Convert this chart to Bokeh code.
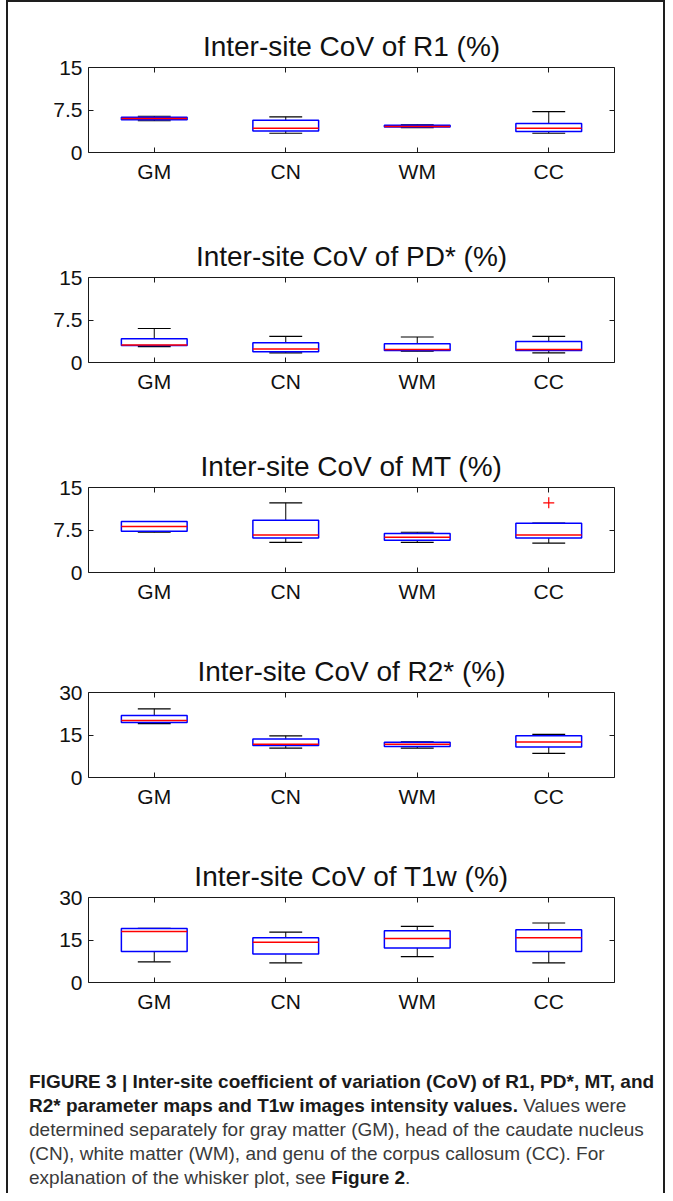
from bokeh.plotting import figure
from bokeh.models import Range1d, FixedTicker, LinearAxis, Div
from bokeh.layouts import column
from bokeh.embed import file_html
from bokeh.resources import INLINE

regions = ["GM", "CN", "WM", "CC"]

titles = ["Inter-site CoV of R1 (%)", "Inter-site CoV of PD* (%)",
          "Inter-site CoV of MT (%)", "Inter-site CoV of R2* (%)",
          "Inter-site CoV of T1w (%)"]

# five-number summaries per region: lower whisker, q1, median, q3, upper whisker
r1_lo = [5.6, 3.4, 4.4, 3.4]
r1_q1 = [5.8, 3.8, 4.5, 3.7]
r1_med = [6.0, 4.3, 4.6, 4.3]
r1_q3 = [6.2, 5.7, 4.8, 5.1]
r1_hi = [6.4, 6.3, 4.9, 7.2]

pd_lo = [2.8, 1.7, 2.0, 1.7]
pd_q1 = [3.0, 1.9, 2.1, 2.1]
pd_med = [3.1, 2.4, 2.3, 2.3]
pd_q3 = [4.2, 3.5, 3.3, 3.7]
pd_hi = [6.0, 4.6, 4.5, 4.6]

mt_lo = [7.1, 5.3, 5.3, 5.2]
mt_q1 = [7.3, 6.1, 5.7, 6.1]
mt_med = [8.1, 6.6, 6.2, 6.6]
mt_q3 = [9.0, 9.2, 6.9, 8.7]
mt_hi = [9.0, 12.3, 7.1, 8.7]
mt_out_region = ["CC"]
mt_out_value = [12.3]

r2_lo = [19.0, 10.4, 10.4, 8.5]
r2_q1 = [19.4, 11.3, 10.9, 10.8]
r2_med = [20.1, 11.7, 11.7, 12.5]
r2_q3 = [21.9, 13.6, 12.4, 14.7]
r2_hi = [24.2, 14.7, 12.6, 15.2]

t1_lo = [7.3, 6.9, 9.1, 6.9]
t1_q1 = [10.9, 10.1, 12.2, 10.9]
t1_med = [18.0, 14.2, 15.5, 15.8]
t1_q3 = [19.1, 15.8, 18.3, 18.6]
t1_hi = [19.1, 17.8, 19.8, 21.0]

ticks_15 = [0, 7.5, 15]
ticks_30 = [0, 15, 30]

# caption lines as (text, bold) runs
caption_lines = [
    [("FIGURE 3 | Inter-site coefficient of variation (CoV) of R1, PD*, MT, and", True)],
    [("R2* parameter maps and T1w images intensity values.", True), ("Values were", False)],
    [("determined separately for gray matter (GM), head of the caudate nucleus", False)],
    [("(CN), white matter (WM), and genu of the corpus callosum (CC). For", False)],
    [("explanation of the whisker plot, see", False), ("Figure 2", True), (".", False)],
]

FONT = "Liberation Sans"


def tick_label(v):
    return ("%g" % v)


def make_panel(title, lo, q1, med, q3, hi, yticks, height, top,
               out_region=None, out_value=None):
    frame_h = 85
    p = figure(width=645, height=height, output_backend="svg", toolbar_location=None,
               x_range=Range1d(0.5, len(regions) + 0.5),
               y_range=Range1d(yticks[0], yticks[-1]),
               min_border_left=80, min_border_right=39,
               min_border_top=top, min_border_bottom=height - top - frame_h)
    p.background_fill_color = "white"
    p.border_fill_color = "white"
    p.outline_line_color = "#1a1a1a"
    p.outline_line_width = 1
    p.xgrid.visible = False
    p.ygrid.visible = False

    xs = list(range(1, len(regions) + 1))
    hw = 0.25
    cw = 0.125

    # whiskers
    p.segment(x0=xs, y0=q3, x1=xs, y1=hi, line_color="black", line_width=1)
    p.segment(x0=xs, y0=q1, x1=xs, y1=lo, line_color="black", line_width=1)
    p.segment(x0=[x - cw for x in xs], y0=hi, x1=[x + cw for x in xs], y1=hi,
              line_color="black", line_width=1.2)
    p.segment(x0=[x - cw for x in xs], y0=lo, x1=[x + cw for x in xs], y1=lo,
              line_color="black", line_width=1.2)
    # boxes
    p.quad(left=[x - hw for x in xs], right=[x + hw for x in xs], bottom=q1, top=q3,
           fill_color=None, line_color="#0000ff", line_width=1.5)
    # medians
    p.segment(x0=[x - hw for x in xs], y0=med, x1=[x + hw for x in xs], y1=med,
              line_color="#ff0000", line_width=1.5)
    if out_region:
        ox = [regions.index(r) + 1 for r in out_region]
        p.scatter(x=ox, y=out_value, marker="cross", size=11, line_color="#ff0000",
                  line_width=1.2)

    labels = {x: r for x, r in zip(xs, regions)}
    p.xaxis.ticker = FixedTicker(ticks=xs)
    p.xaxis.major_label_overrides = labels
    p.yaxis.ticker = FixedTicker(ticks=yticks)
    p.yaxis.major_label_overrides = {v: tick_label(v) for v in yticks}
    for ax in (p.xaxis[0], p.yaxis[0]):
        ax.axis_line_color = None
        ax.major_tick_in = 5
        ax.major_tick_out = 0
        ax.major_tick_line_color = "#1a1a1a"
        ax.minor_tick_line_color = None
        ax.major_label_text_font = FONT
        ax.major_label_text_font_size = "21px"
        ax.major_label_text_color = "#111111"
    p.xaxis.major_label_standoff = 7
    p.yaxis.major_label_standoff = 6

    # mirrored inward ticks (MATLAB "box on"), without labels
    top_ax = LinearAxis(ticker=FixedTicker(ticks=xs), axis_line_color=None,
                        major_tick_in=5, major_tick_out=0, minor_tick_line_color=None,
                        major_label_text_color=None, major_label_text_font_size="1px",
                        major_label_standoff=0, major_tick_line_color="#1a1a1a")
    right_ax = LinearAxis(ticker=FixedTicker(ticks=yticks), axis_line_color=None,
                          major_tick_in=5, major_tick_out=0, minor_tick_line_color=None,
                          major_label_text_color=None, major_label_text_font_size="1px",
                          major_label_standoff=0, major_tick_line_color="#1a1a1a")
    p.add_layout(top_ax, "above")
    p.add_layout(right_ax, "right")

    p.title.text = title
    p.title.align = "center"
    p.title.text_font = FONT
    p.title.text_font_size = "28px"
    p.title.text_font_style = "normal"
    p.title.text_color = "#111111"
    p.title.standoff = 12
    return p


p1 = make_panel(titles[0], r1_lo, r1_q1, r1_med, r1_q3, r1_hi, ticks_15, 215, 65)
p2 = make_panel(titles[1], pd_lo, pd_q1, pd_med, pd_q3, pd_hi, ticks_15, 210, 60)
p3 = make_panel(titles[2], mt_lo, mt_q1, mt_med, mt_q3, mt_hi, ticks_15, 205, 60,
                mt_out_region, mt_out_value)
p4 = make_panel(titles[3], r2_lo, r2_q1, r2_med, r2_q3, r2_hi, ticks_30, 205, 60)
p5 = make_panel(titles[4], t1_lo, t1_q1, t1_med, t1_q3, t1_hi, ticks_30, 225, 60)


def caption_line_html(runs):
    parts = []
    for i, (txt, bold) in enumerate(runs):
        words = txt.split(" ")
        style = "color:#1a1a1a;font-weight:bold" if bold else "color:#3a3a3a"
        spans = " ".join('<span style="%s">%s</span>' % (style, w) for w in words)
        sep = "" if (i > 0 and txt in (".", ",")) else (" " if i > 0 else "")
        parts.append(sep + spans)
    return "".join(parts)


caption_html = (
    '<div style="font-family: \'Liberation Sans Narrow\', \'Arial Narrow\', \'Liberation Sans\', sans-serif;'
    ' font-size: 19px; line-height: 24px; white-space: nowrap;'
    ' padding-left: 16px; padding-top: 3px;">'
    + "<br>".join(caption_line_html(line) for line in caption_lines)
    + '</div>'
)
caption = Div(text=caption_html, width=645, height=121)

layout = column(p1, p2, p3, p4, p5, caption, spacing=0,
                styles={"border-top": "2px solid #1e1e1e",
                        "border-left": "2px solid #1e1e1e",
                        "border-right": "2px solid #1e1e1e",
                        "margin-left": "6px",
                        "background-color": "white"})

with open("out.html", "w") as f:
    f.write(file_html(layout, INLINE))
